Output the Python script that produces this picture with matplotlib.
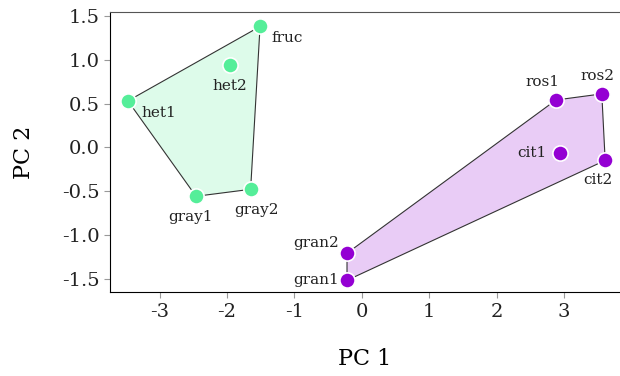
import numpy as np
import matplotlib
matplotlib.use('Agg')
import matplotlib.pyplot as plt

# PCA scores
names_a = ['het1', 'fruc', 'het2', 'gray1', 'gray2']
pc1_a = [-3.47, -1.51, -1.96, -2.46, -1.65]
pc2_a = [0.53, 1.38, 0.94, -0.56, -0.48]
hull_a = ['het1', 'fruc', 'gray2', 'gray1']

names_b = ['ros1', 'ros2', 'cit1', 'cit2', 'gran2', 'gran1']
pc1_b = [2.88, 3.56, 2.94, 3.61, -0.22, -0.22]
pc2_b = [0.54, 0.61, -0.07, -0.15, -1.21, -1.52]
hull_b = ['gran2', 'ros1', 'ros2', 'cit2', 'gran1']

xticks = [-3, -2, -1, 0, 1, 2, 3]
yticks = [-1.5, -1.0, -0.5, 0.0, 0.5, 1.0, 1.5]

# label offsets in points (dx, dy, ha, va)
offs = {'het1': (10, -4, 'left', 'top'), 'fruc': (8, -3, 'left', 'top'),
        'het2': (0, -10, 'center', 'top'), 'gray1': (-4, -10, 'center', 'top'),
        'gray2': (4, -10, 'center', 'top'), 'ros1': (-10, 8, 'center', 'bottom'),
        'ros2': (-3, 8, 'center', 'bottom'), 'cit1': (-10, 0, 'right', 'center'),
        'cit2': (-5, -9, 'center', 'top'), 'gran2': (-6, 2, 'right', 'bottom'),
        'gran1': (-6, 0, 'right', 'center')}

plt.rcParams['font.family'] = 'DejaVu Serif'
fig = plt.figure(figsize=(6.2, 3.76), dpi=100)
ax = fig.add_axes([0.177, 0.223, 0.823, 0.745])

groups = [(names_a, pc1_a, pc2_a, hull_a, '#55ee99'),
          (names_b, pc1_b, pc2_b, hull_b, '#9400d3')]
for names, xs, ys, hull, col in groups:
    idx = [names.index(n) for n in hull]
    hx = [xs[i] for i in idx]; hy = [ys[i] for i in idx]
    ax.fill(hx, hy, facecolor=col, alpha=0.2, edgecolor='none', zorder=1)
    ax.plot(hx + [hx[0]], hy + [hy[0]], color='#333333', lw=0.8, zorder=2)
    ax.scatter(xs, ys, s=120, color=col, edgecolor='white', linewidth=1.2, zorder=3)
    for n, x, y in zip(names, xs, ys):
        dx, dy, ha, va = offs[n]
        ax.annotate(n, (x, y), xytext=(dx, dy), textcoords='offset points',
                    ha=ha, va=va, fontsize=11, color='#222222')

ax.set_xlim(-3.74, 3.83)
ax.set_ylim(-1.655, 1.545)
ax.set_xticks(xticks)
ax.set_xticklabels([str(t) for t in xticks])
ax.set_yticks(yticks)
ax.set_yticklabels(['%.1f' % t for t in yticks])
ax.tick_params(labelsize=14, length=4, color='#999999', labelcolor='#222222')
ax.spines['right'].set_visible(False)
ax.spines['top'].set_color('#555555')
ax.set_xlabel('PC 1', fontsize=16, labelpad=20)
ax.set_ylabel('PC 2', fontsize=16, labelpad=19)

fig.savefig('out.png', dpi=100)
